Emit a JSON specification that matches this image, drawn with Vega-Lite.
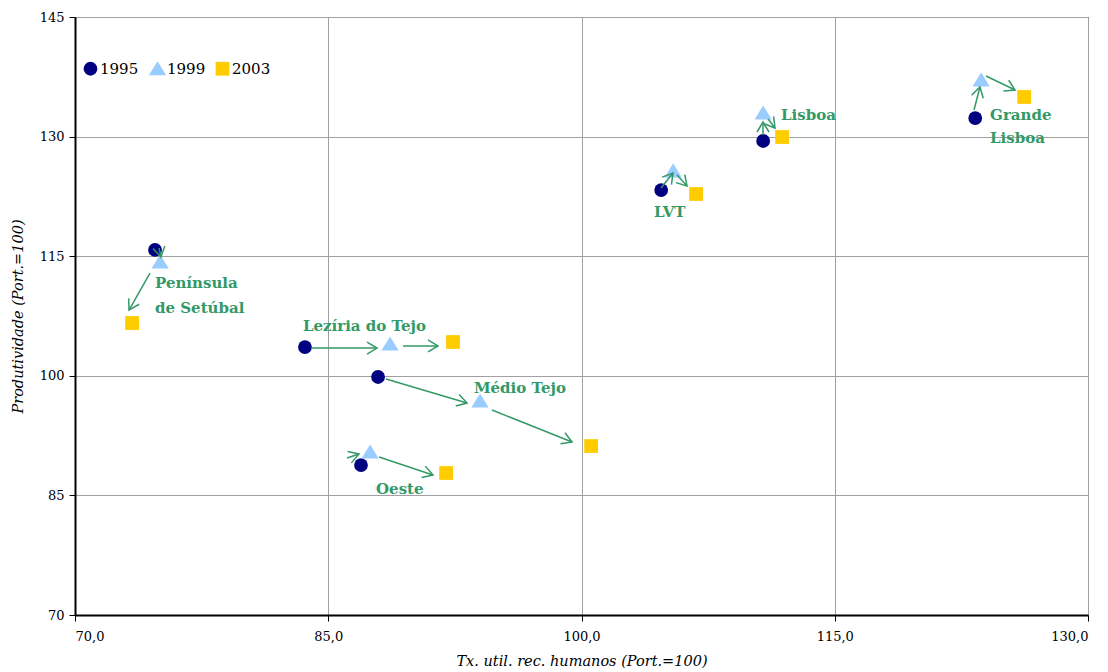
{
  "$schema": "https://vega.github.io/schema/vega-lite/v6.json",
  "width": 1013,
  "height": 598,
  "autosize": {"type": "none"},
  "padding": {"left": 75, "top": 17, "right": 20, "bottom": 57},
  "background": "white",
  "config": {
    "view": {"stroke": "#000000", "strokeWidth": 1},
    "font": "DejaVu Serif",
    "axis": {
      "domainColor": "#000000",
      "domainWidth": 2,
      "tickColor": "#000000",
      "tickSize": 6,
      "tickWidth": 1,
      "gridColor": "#a0a0a0",
      "gridWidth": 1,
      "labelFont": "DejaVu Serif",
      "labelFontSize": 13,
      "labelColor": "#000000",
      "titleFont": "DejaVu Serif",
      "titleFontSize": 14.5,
      "titleFontStyle": "italic",
      "titleFontWeight": "normal",
      "titleColor": "#000000"
    }
  },
  "datasets": {
    "pts": [
      {"region": "Península de Setúbal", "year": "1995", "x": 74.74, "y": 115.78},
      {"region": "Lezíria do Tejo", "year": "1995", "x": 83.62, "y": 103.6},
      {"region": "Médio Tejo", "year": "1995", "x": 87.95, "y": 99.85},
      {"region": "Oeste", "year": "1995", "x": 86.94, "y": 88.8},
      {"region": "LVT", "year": "1995", "x": 104.72, "y": 123.3},
      {"region": "Lisboa", "year": "1995", "x": 110.76, "y": 129.45},
      {"region": "Grande Lisboa", "year": "1995", "x": 123.32, "y": 132.33},
      {"region": "Península de Setúbal", "year": "1999", "x": 75.04, "y": 114.27},
      {"region": "Lezíria do Tejo", "year": "1999", "x": 88.66, "y": 103.99},
      {"region": "Médio Tejo", "year": "1999", "x": 93.99, "y": 96.84},
      {"region": "Oeste", "year": "1999", "x": 87.48, "y": 90.44},
      {"region": "LVT", "year": "1999", "x": 105.43, "y": 125.7},
      {"region": "Lisboa", "year": "1999", "x": 110.76, "y": 132.96},
      {"region": "Grande Lisboa", "year": "1999", "x": 123.67, "y": 137.1},
      {"region": "Península de Setúbal", "year": "2003", "x": 73.38, "y": 106.62},
      {"region": "Lezíria do Tejo", "year": "2003", "x": 92.39, "y": 104.24},
      {"region": "Médio Tejo", "year": "2003", "x": 100.57, "y": 91.19},
      {"region": "Oeste", "year": "2003", "x": 91.98, "y": 87.81},
      {"region": "LVT", "year": "2003", "x": 106.79, "y": 122.8},
      {"region": "Lisboa", "year": "2003", "x": 111.88, "y": 129.95},
      {"region": "Grande Lisboa", "year": "2003", "x": 126.22, "y": 134.97}
    ],
    "arrows": [
      {"region": "Península de Setúbal", "x1": 74.98, "y1": 116.03, "x2": 75.09, "y2": 114.9},
      {"region": "Península de Setúbal", "x1": 74.44, "y1": 112.89, "x2": 73.2, "y2": 108.25},
      {"region": "Lezíria do Tejo", "x1": 84.04, "y1": 103.48, "x2": 87.89, "y2": 103.48},
      {"region": "Lezíria do Tejo", "x1": 89.43, "y1": 103.74, "x2": 91.5, "y2": 103.74},
      {"region": "Médio Tejo", "x1": 88.42, "y1": 99.6, "x2": 93.22, "y2": 96.59},
      {"region": "Médio Tejo", "x1": 94.7, "y1": 95.71, "x2": 99.44, "y2": 91.7},
      {"region": "Oeste", "x1": 86.11, "y1": 89.69, "x2": 86.82, "y2": 90.19},
      {"region": "Oeste", "x1": 88.01, "y1": 89.81, "x2": 91.2, "y2": 87.56},
      {"region": "LVT", "x1": 104.71, "y1": 123.55, "x2": 105.42, "y2": 125.43},
      {"region": "LVT", "x1": 105.66, "y1": 125.18, "x2": 106.25, "y2": 123.8},
      {"region": "Lisboa", "x1": 110.75, "y1": 130.2, "x2": 110.75, "y2": 131.83},
      {"region": "Lisboa", "x1": 111.05, "y1": 132.21, "x2": 111.46, "y2": 131.08},
      {"region": "Grande Lisboa", "x1": 123.25, "y1": 133.34, "x2": 123.6, "y2": 136.22},
      {"region": "Grande Lisboa", "x1": 123.96, "y1": 137.6, "x2": 125.68, "y2": 135.84}
    ],
    "labels": [
      {"text": "Península", "x": 74.74, "y": 111.64},
      {"text": "de Setúbal", "x": 74.74, "y": 108.5},
      {"text": "Lezíria do Tejo", "x": 83.5, "y": 106.24},
      {"text": "Médio Tejo", "x": 93.63, "y": 98.47},
      {"text": "Oeste", "x": 87.83, "y": 85.8},
      {"text": "LVT", "x": 104.29, "y": 120.54},
      {"text": "Lisboa", "x": 111.82, "y": 132.71},
      {"text": "Grande", "x": 124.2, "y": 132.71},
      {"text": "Lisboa", "x": 124.2, "y": 129.82}
    ]
  },
  "layer": [
    {
      "data": {"name": "pts"},
      "mark": {"type": "point", "filled": true, "opacity": 1, "size": 190},
      "encoding": {
        "x": {
          "field": "x", "type": "quantitative",
          "scale": {"domain": [70, 130], "nice": false, "zero": false},
          "axis": {
            "values": [70, 85, 100, 115, 130],
            "labelExpr": "replace(format(datum.value, '.1f'), '.', ',')",
            "labelPadding": 9,
            "titlePadding": 11,
            "title": "Tx. util. rec. humanos (Port.=100)"
          }
        },
        "y": {
          "field": "y", "type": "quantitative",
          "scale": {"domain": [70, 145], "nice": false, "zero": false},
          "axis": {
            "values": [70, 85, 100, 115, 130, 145],
            "labelPadding": 5,
            "titlePadding": 14,
            "title": "Produtividade (Port.=100)"
          }
        },
        "color": {
          "field": "year", "type": "nominal",
          "scale": {"domain": ["1995", "1999", "2003"], "range": ["#000080", "#99CCFF", "#FFCC00"]},
          "legend": {
            "title": null,
            "orient": "none",
            "legendX": 8,
            "legendY": 44,
            "direction": "horizontal",
            "padding": 0,
            "labelFont": "DejaVu Serif",
            "labelFontSize": 15,
            "labelColor": "#000000",
            "labelOffset": 2,
            "columnPadding": 9,
            "symbolSize": 190,
            "symbolStrokeWidth": 0
          }
        },
        "shape": {
          "field": "year", "type": "nominal",
          "scale": {"domain": ["1995", "1999", "2003"], "range": ["circle", "M0,-1.1L1.25,0.95L-1.25,0.95Z", "square"]},
          "legend": null
        }
      }
    },
    {
      "data": {"name": "arrows"},
      "mark": {"type": "rule", "color": "#339966", "strokeWidth": 1.5},
      "encoding": {
        "x": {"field": "x1", "type": "quantitative"},
        "y": {"field": "y1", "type": "quantitative"},
        "x2": {"field": "x2"},
        "y2": {"field": "y2"}
      }
    },
    {
      "data": {"name": "arrows"},
      "transform": [
        {"calculate": "atan2(-(datum.y2 - datum.y1) * 598 / 75, (datum.x2 - datum.x1) * 1013 / 60) * 180 / PI", "as": "ang"}
      ],
      "mark": {"type": "point", "shape": "M-1,-0.6L0,0L-1,0.6", "filled": false, "stroke": "#339966", "strokeWidth": 1.5, "opacity": 1, "size": 400},
      "encoding": {
        "x": {"field": "x2", "type": "quantitative"},
        "y": {"field": "y2", "type": "quantitative"},
        "angle": {"field": "ang", "type": "quantitative", "scale": null}
      }
    },
    {
      "data": {"name": "labels"},
      "mark": {"type": "text", "align": "left", "baseline": "middle", "font": "DejaVu Serif", "fontSize": 15, "fontWeight": "bold", "color": "#339966"},
      "encoding": {
        "x": {"field": "x", "type": "quantitative"},
        "y": {"field": "y", "type": "quantitative"},
        "text": {"field": "text"}
      }
    }
  ]
}
